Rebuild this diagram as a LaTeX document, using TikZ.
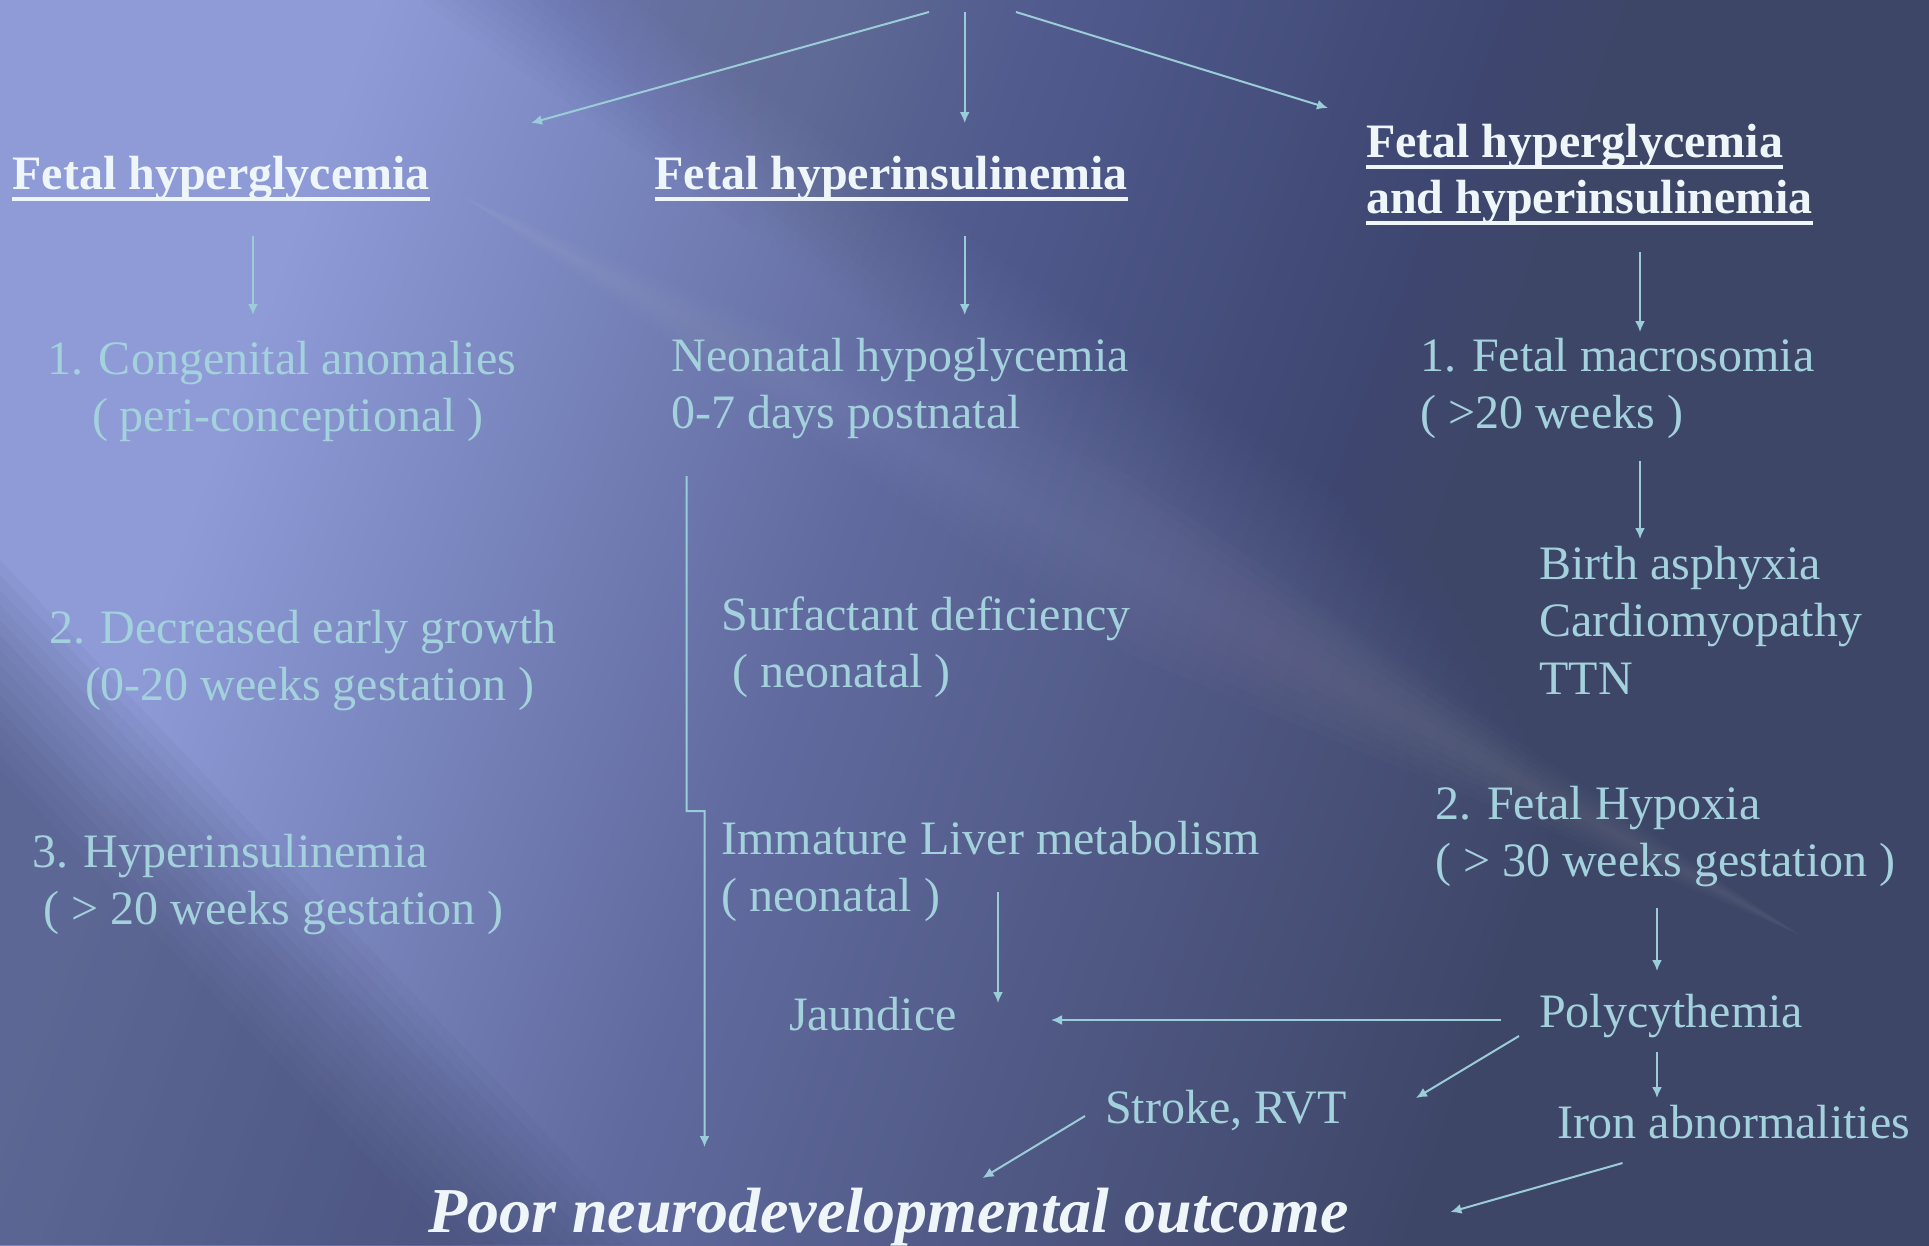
\documentclass[tikz,border=0pt]{standalone}
\usepackage{fontspec}
\setmainfont{Liberation Serif}
\usetikzlibrary{arrows.meta,calc}

\definecolor{bglight}{RGB}{142,155,215}
\definecolor{bgmid}{RGB}{96,106,158}
\definecolor{bgdark}{RGB}{62,70,104}
\definecolor{txtblue}{RGB}{163,209,220}
\definecolor{arrblue}{RGB}{155,205,216}
\definecolor{headwhite}{RGB}{238,246,250}

\pgfdeclarehorizontalshading{slidebg}{100bp}{color(0bp)=(bglight); color(28bp)=(bglight); color(46bp)=(bgmid); color(68bp)=(bgdark); color(100bp)=(bgdark)}

\newcommand\ulbox[1]{\setbox0\hbox{#1}\rlap{\rule[-11.8pt]{\wd0}{3.6pt}}\box0}

\begin{document}
\begin{tikzpicture}[x=1pt,y=-1pt,
  every node/.style={inner sep=0pt,outer sep=0pt},
  head/.style={anchor=base west,text=headwhite,align=left,font=\fontsize{48}{56}\selectfont\bfseries},
  body/.style={anchor=base west,text=txtblue,align=left,font=\fontsize{48}{57.6}\selectfont},
  arr/.style={draw=arrblue,line width=2pt,-{Latex[length=11pt,width=10pt]}}]
\useasboundingbox (0,0) rectangle (1929,1245);
\shade[shading=slidebg,shading angle=-20] (0,0) rectangle (1929,1245);
\foreach \d in {0,15,...,210}
  \fill[bgdark,opacity=.02] (420+\d,0) -- (1929,0) -- (1929,{0.7*(1509-\d)}) -- cycle;
\foreach \d in {0,15,...,210}
  \fill[bgdark,opacity=.05] (0,560+\d) -- (0,1245) -- ({(685-\d)/1.05},1245) -- cycle;
\foreach \w in {15,30,...,90}
  \fill[white,opacity=.012] (460,195) -- (1130,{565-\w}) -- (1800,935) -- (1130,{565+\w}) -- cycle;
\node[head] (hglyc) at (12.5,189) {\ulbox{Fetal hyperglycemia}};
\node[head] (hins) at (654.5,189) {\ulbox{Fetal hyperinsulinemia}};
\node[head] (hboth) at (1366,213) {\ulbox{Fetal hyperglycemia}\\\ulbox{and hyperinsulinemia}};
\node[body] (cong) at (47,431.6) {1. Congenital anomalies\\\hspace*{45pt}( peri-conceptional )};
\node[body] (growth) at (49,700.6) {2. Decreased early growth\\\hspace*{36pt}(0-20 weeks gestation )};
\node[body] (hyper) at (32,924.6) {3. Hyperinsulinemia\\\hspace*{11.5pt}( > 20 weeks gestation )};
\node[body] (neo) at (671.5,428.6) {Neonatal hypoglycemia\\0-7 days postnatal};
\node[body] (surf) at (721.4,687.6) {Surfactant deficiency\\\hspace*{11pt}( neonatal )};
\node[body] (liver) at (721.4,911.6) {Immature Liver metabolism\\( neonatal )};
\node[body] (jaund) at (789,1030) {Jaundice};
\node[body] (stroke) at (1105,1123) {Stroke, RVT};
\node[anchor=base west,text=headwhite,font=\fontsize{64}{72}\selectfont\bfseries\itshape] (poor) at (428,1232) {Poor neurodevelopmental outcome};
\node[body] (macro) at (1420,428.6) {1. Fetal macrosomia\\( >20 weeks )};
\node[body] (birth) at (1539.5,694.2) {Birth asphyxia\\Cardiomyopathy\\TTN};
\node[body] (hypox) at (1435,876.6) {2. Fetal Hypoxia\\( > 30 weeks gestation )};
\node[body] (poly) at (1539,1027) {Polycythemia};
\node[body] (iron) at (1557,1138) {Iron abnormalities};
\coordinate (fromL) at (929,12);
\coordinate (fromC) at (964.7,12);
\coordinate (fromR) at (1016,12);
\draw[arr] (fromL) -- ($(hglyc.base west)+(518.5,-66)$);
\draw[arr] (fromC) -- ($(hins.base west)+(310.2,-66)$);
\draw[arr] (fromR) -- ($(hboth.base west)+(-38,-105)$);
\draw[arr] ($(hglyc.base west)+(240.5,47)$) -- ($(cong.base west)+(206,-116.6)$);
\draw[arr] ($(hins.base west)+(310.2,47)$) -- ($(neo.base west)+(293.2,-113.6)$);
\draw[arr] ($(hboth.base west)+(274,39)$) -- ($(macro.base west)+(220,-96.6)$);
\draw[arr] ($(macro.base west)+(220,32.4)$) -- ($(birth.base west)+(100.5,-155.2)$);
\draw[arr] ($(hypox.base west)+(222,31.4)$) -- ($(poly.base west)+(118,-56)$);
\draw[arr] ($(poly.base west)+(118,25)$) -- ($(iron.base west)+(100,-40)$);
\draw[arr] ($(poly.base west)+(-38,-7)$) -- ($(jaund.base west)+(262,-10)$);
\draw[arr] ($(poly.base west)+(-20,9)$) -- ($(stroke.base west)+(311,-25)$);
\draw[arr] ($(iron.base west)+(65.5,25)$) -- ($(poor.base west)+(1022.4,-20)$);
\draw[arr] ($(stroke.base west)+(-20,-7)$) -- ($(poor.base west)+(554.6,-54)$);
\draw[arr] ($(liver.base west)+(276.6,-19.6)$) -- ($(jaund.base west)+(209,-27)$);
\draw[arr] ($(neo.base west)+(15.1,47.4)$) -- ++(0,335) -- ++(18,0) -- ($(poor.base west)+(276.5,-85)$);
\end{tikzpicture}
\end{document}
